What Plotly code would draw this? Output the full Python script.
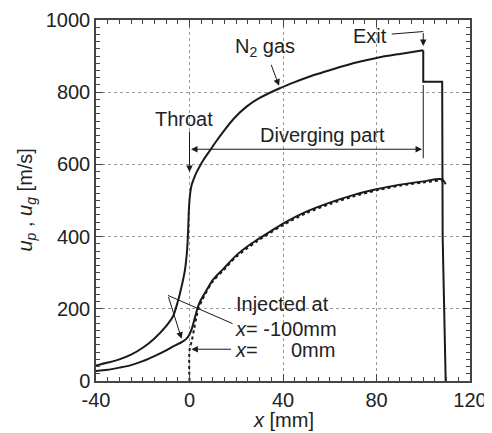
import plotly.graph_objects as go

# Gas velocity (N2) along the nozzle, smooth part up to the exit
gas_x = [-40, -35, -30, -25, -20, -15, -10, -7, -5, -4, -3, -2, -1.5, -1, -0.6, -0.2,
         0.4, 1, 2, 3, 4.4, 6, 8.7, 11, 14.4, 19, 24.4, 30, 38.6, 45, 50, 55, 60,
         70, 80, 90, 100]
gas_u = [43, 51, 60, 73, 92, 118, 152, 180, 220, 245, 273, 305, 330, 365, 415, 482,
         525, 545, 563, 578, 595, 613, 638, 660, 690, 727, 760, 784, 811, 828, 840, 851, 861,
         880, 895, 906, 916]
# Gas velocity after the exit (step)
gas_exit_x = [100, 100, 108.1, 108.3, 109.6]
gas_exit_u = [916, 829, 829, 400, 0]

# Particle injected at x = -100 mm
p100_x = [-40, -35, -30, -25, -20, -15, -10, -7, -5, -3, -1.5, -0.2, 1, 2, 3, 4.1,
          5.5, 7, 10, 14.4, 20, 25, 28.7, 35, 40, 50, 60, 70, 80, 90, 100, 107.9, 109.6]
p100_u = [28, 31, 37, 44, 55, 69, 85, 96, 102, 109, 116, 127, 145, 168, 192, 214,
          232, 248, 280, 310, 348, 374, 390, 416, 436, 469, 494, 515, 531, 544, 553, 559, 545]

# Particle injected at x = 0 mm
p0_x = [0, 0, 1, 2, 3, 4, 5.5, 7, 10, 14.4, 20, 28.7, 40, 50, 60, 70, 80, 90, 100, 108]
p0_u = [0, 85, 112, 145, 178, 203, 225, 244, 276, 306, 344, 386, 432, 465, 490, 511, 528, 541, 550, 556]

x_ticks = [-40, 0, 40, 80, 120]
x_tick_labels = ["-40", "0", "40", "80", "120"]
y_ticks = [0, 200, 400, 600, 800, 1000]
y_tick_labels = ["0", "200", "400", "600", "800", "1000"]

FONT = "Liberation Sans, Arial, sans-serif"
LINE = "#1a1a1a"
AX = "#444444"

fig = go.Figure()
fig.add_trace(go.Scatter(x=p0_x, y=p0_u, mode="lines",
                         line=dict(color=LINE, width=2, dash="3px,3px", shape="spline", smoothing=0.8)))
fig.add_trace(go.Scatter(x=p100_x, y=p100_u, mode="lines",
                         line=dict(color=LINE, width=2, shape="spline", smoothing=0.8)))
fig.add_trace(go.Scatter(x=gas_x, y=gas_u, mode="lines",
                         line=dict(color=LINE, width=2, shape="spline", smoothing=0.8)))
fig.add_trace(go.Scatter(x=gas_exit_x, y=gas_exit_u, mode="lines",
                         line=dict(color=LINE, width=2)))

tf = dict(family=FONT, size=20, color="#222222")

ann = []
def txt(x, y, t, xanchor="center"):
    ann.append(dict(x=x, y=y, text=t, showarrow=False, xref="x", yref="y",
                    xanchor=xanchor, yanchor="middle", font=tf))

def arrow(x0, y0, x1, y1, side="end"):
    ann.append(dict(x=x1, y=y1, ax=x0, ay=y0, xref="x", yref="y", axref="x", ayref="y",
                    text="", showarrow=True, arrowhead=2, arrowsize=1.3, arrowwidth=1,
                    arrowcolor=LINE, arrowside=side, standoff=0, startstandoff=0))

txt(-2.4, 727, "Throat")
arrow(0, 695, 0, 579)
txt(56.9, 681, "Diverging part")
arrow(0, 642, 99.5, 642, side="end+start")
txt(32.2, 923, "N<sub>2</sub> gas")
arrow(34.7, 880, 38.3, 818)
txt(77.2, 956, "Exit")
arrow(100, 968, 100, 928)
txt(19.2, 214, "Injected at", xanchor="left")
txt(18.6, 145, "<i>x</i>= -100mm", xanchor="left")
txt(18.6, 85, "<i>x</i>=", xanchor="left")
txt(63.3, 85, "0mm", xanchor="right")
arrow(-9.2, 237, -3.4, 117)
arrow(18.4, 88, 0.8, 88)

# axis titles
ann.append(dict(x=0.5, y=0, xref="paper", yref="paper", text="<i>x</i> [mm]", showarrow=False,
                xanchor="center", yanchor="middle", yshift=-39, font=tf))
ann.append(dict(x=0, y=0.5, xref="paper", yref="paper",
                text="<i>u</i><sub><i>p</i></sub> , <i>u</i><sub><i>g</i></sub> [m/s]",
                showarrow=False, textangle=-90, xanchor="center", yanchor="middle",
                xshift=-70, font=tf))

shapes = [
    dict(type="line", xref="x", yref="y", x0=86.5, y0=961, x1=100, y1=968, line=dict(color=LINE, width=1)),
    dict(type="line", xref="x", yref="y", x0=100, y0=820, x1=100, y1=617, line=dict(color=LINE, width=1)),
    dict(type="line", xref="x", yref="y", x0=-9.2, y0=237, x1=18.4, y1=159, line=dict(color=LINE, width=1)),
]

axis_common = dict(showline=True, linecolor=AX, linewidth=1.5, mirror="allticks",
                   ticks="inside", ticklen=7, tickcolor=AX, tickwidth=1,
                   showgrid=True, gridcolor="#9a9a9a", griddash="dot", gridwidth=1,
                   zeroline=False, tickfont=tf, automargin=False, ticklabeloverflow="allow")

# the page body keeps its default 8px margin, so the figure is offset by 8px
fig.update_layout(
    width=484, height=425, margin=dict(l=88, r=22, t=12, b=52),
    paper_bgcolor="white", plot_bgcolor="white", showlegend=False,
    annotations=ann, shapes=shapes,
    xaxis=dict(range=[-40, 120], tickvals=x_ticks, ticktext=x_tick_labels,
               minor=dict(dtick=5, tick0=0, ticks="inside", ticklen=4, tickcolor=AX, showgrid=False),
               **axis_common),
    yaxis=dict(range=[0, 1000], tickvals=y_ticks, ticktext=y_tick_labels,
               minor=dict(dtick=20, tick0=0, ticks="inside", ticklen=4, tickcolor=AX, showgrid=False),
               **axis_common),
)

fig.write_html("out.html")
